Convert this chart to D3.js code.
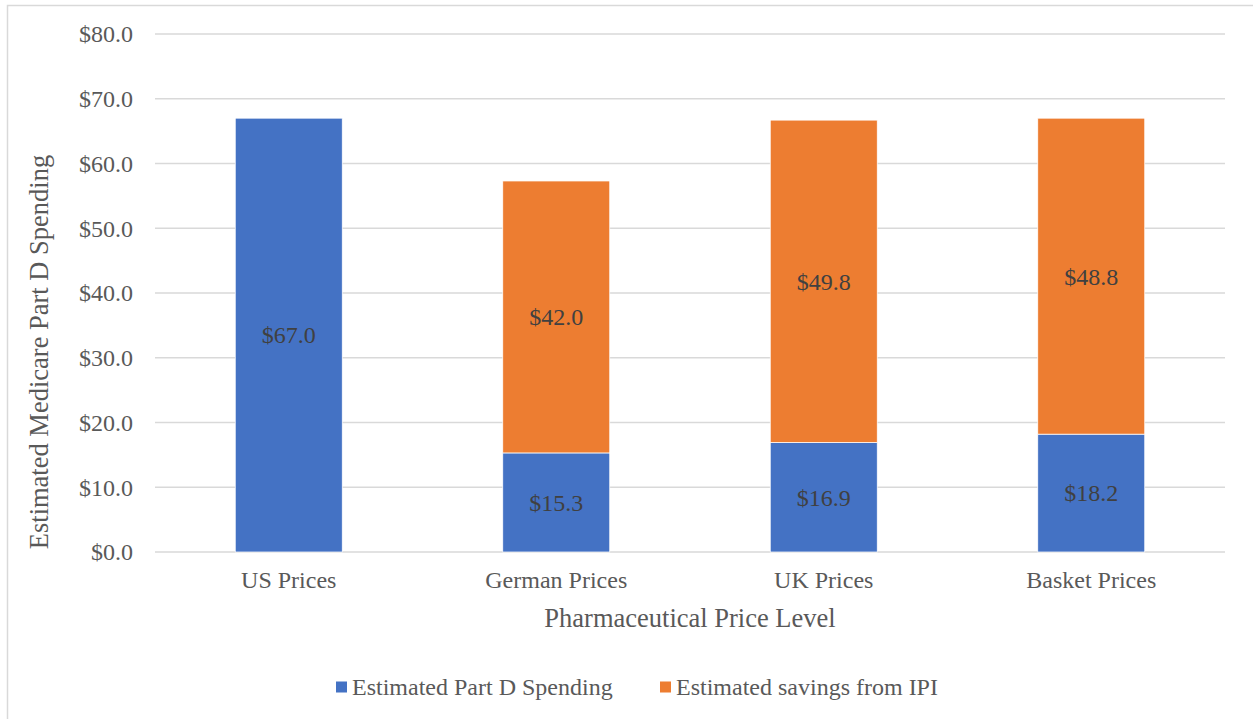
<!DOCTYPE html>
<html>
<head>
<meta charset="utf-8">
<script src="https://cdn.jsdelivr.net/npm/d3@7"></script>
<style>
    body { margin: 0; background: #fff; }
    svg text { font-family: "Liberation Serif", "Times New Roman", Times, "DejaVu Serif", serif; }
</style>
</head>
<body>
<svg id="chart" width="1253" height="719"></svg>
<script>
// data
const categories = ["US Prices", "German Prices", "UK Prices", "Basket Prices"];
const seriesNames = ["Estimated Part D Spending", "Estimated savings from IPI"];
const spending = [67.0, 15.3, 16.9, 18.2];
const savings = [0, 42.0, 49.8, 48.8];
const yTicks = [0, 10, 20, 30, 40, 50, 60, 70, 80];

const colors = ["#4472c4", "#ed7d31"];

const svg = d3.select("#chart");

// chart border (top and left edge only visible)
svg.append("path")
    .attr("d", "M7.5,719 V5.5 H1253")
    .attr("fill", "none")
    .attr("stroke", "#d9d9d9")
    .attr("stroke-width", 1.5);

const plot = { left: 155, right: 1225, top: 34, bottom: 552 };

const x = d3.scaleBand()
    .domain(categories)
    .range([plot.left, plot.right])
    .paddingInner(0.6)
    .paddingOuter(0.3);

const y = d3.scaleLinear()
    .domain([0, 80])
    .range([plot.bottom, plot.top]);

// grid
svg.append("g")
    .selectAll("line")
    .data(yTicks)
    .join("line")
    .attr("x1", plot.left)
    .attr("x2", plot.right)
    .attr("y1", d => y(d))
    .attr("y2", d => y(d))
    .attr("stroke", "#d9d9d9")
    .attr("stroke-width", 1.5);

// y tick labels
svg.append("g")
    .selectAll("text")
    .data(yTicks)
    .join("text")
    .attr("x", 133)
    .attr("y", d => y(d))
    .attr("dy", "0.35em")
    .attr("text-anchor", "end")
    .attr("font-size", 24)
    .attr("fill", "#595959")
    .text(d => "$" + d.toFixed(1));

// stacked bars
const rows = categories.map((c, i) => ({ category: c, s0: spending[i], s1: savings[i] }));
const stacked = d3.stack().keys(["s0", "s1"])(rows);

const layers = svg.append("g")
    .selectAll("g")
    .data(stacked)
    .join("g")
    .attr("fill", (d, i) => colors[i]);

layers.selectAll("rect")
    .data(d => d.filter(p => p[1] - p[0] > 0))
    .join("rect")
    .attr("x", d => x(d.data.category))
    .attr("width", x.bandwidth())
    .attr("y", d => y(d[1]))
    .attr("height", d => y(d[0]) - y(d[1]))
    .attr("stroke", "#fff")
    .attr("stroke-width", 0.75);

layers.selectAll("text")
    .data(d => d.filter(p => p[1] - p[0] > 0))
    .join("text")
    .attr("x", d => x(d.data.category) + x.bandwidth() / 2)
    .attr("y", d => (y(d[0]) + y(d[1])) / 2)
    .attr("dy", "0.35em")
    .attr("text-anchor", "middle")
    .attr("font-size", 24)
    .attr("fill", "#404040")
    .text(d => "$" + (d[1] - d[0]).toFixed(1));

// x category labels
svg.append("g")
    .selectAll("text")
    .data(categories)
    .join("text")
    .attr("x", d => x(d) + x.bandwidth() / 2)
    .attr("y", 588)
    .attr("text-anchor", "middle")
    .attr("font-size", 24)
    .attr("fill", "#595959")
    .text(d => d);

// axis titles
svg.append("text")
    .attr("x", (plot.left + plot.right) / 2)
    .attr("y", 627)
    .attr("text-anchor", "middle")
    .attr("font-size", 26.5)
    .attr("fill", "#595959")
    .text("Pharmaceutical Price Level");

svg.append("text")
    .attr("transform", "translate(48,352) rotate(-90)")
    .attr("text-anchor", "middle")
    .attr("font-size", 26.5)
    .attr("fill", "#595959")
    .text("Estimated Medicare Part D Spending");

// legend
const legendX = [336, 660];
const legend = svg.append("g")
    .selectAll("g")
    .data(seriesNames)
    .join("g")
    .attr("transform", (d, i) => `translate(${legendX[i]},687)`);

legend.append("rect")
    .attr("x", 0)
    .attr("y", -5.5)
    .attr("width", 11)
    .attr("height", 11)
    .attr("fill", (d, i) => colors[i]);

legend.append("text")
    .attr("x", 16)
    .attr("dy", "0.35em")
    .attr("font-size", 24)
    .attr("fill", "#595959")
    .text(d => d);
</script>
</body>
</html>
